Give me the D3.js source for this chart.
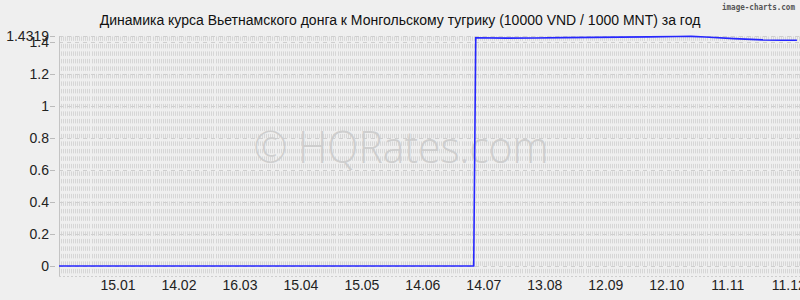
<!DOCTYPE html>
<html><head><meta charset="utf-8">
<script src="https://cdn.jsdelivr.net/npm/d3@7"></script>
<style>body{margin:0;background:#efefef}svg{display:block}</style>
</head><body>
<svg id="c" width="800" height="300"></svg>
<script>
const titleText = "Динамика курса Вьетнамского донга к Монгольскому тугрику (10000 VND / 1000 MNT) за год";
const dates = ["2022-12-17","2023-07-09","2023-07-10","2023-07-25","2023-08-08","2023-08-22","2023-09-05","2023-09-19","2023-10-03","2023-10-17","2023-10-24","2023-10-31","2023-11-14","2023-11-28","2023-12-08","2023-12-15"];
const values = [0,0,1.423,1.421,1.422,1.424,1.426,1.427,1.429,1.4315,1.4319,1.428,1.418,1.410,1.408,1.4075];
const yTicks = [0,0.2,0.4,0.6,0.8,1,1.2,1.4];
const yMaxLabel = 1.4319;
const xTickDates = ["2023-01-15","2023-02-14","2023-03-16","2023-04-15","2023-05-15","2023-06-14","2023-07-14","2023-08-13","2023-09-12","2023-10-12","2023-11-11","2023-12-11"];
const xTickLabels = ["15.01","14.02","16.03","15.04","15.05","14.06","14.07","13.08","12.09","12.10","11.11","11.12"];
const domainStart = "2022-12-17", domainEnd = "2023-12-17";

(function () {
const parse = d3.utcParse("%Y-%m-%d");
const svg = d3.select("#c");
const W = 800, H = 300;
svg.append("rect").attr("width", W).attr("height", H).attr("fill", "#efefef");

const x = d3.scaleUtc().domain([parse(domainStart), parse(domainEnd)]).range([59, 801]);
const y = d3.scaleLinear().domain([0, 1.4]).range([266, 41.5]);
const plotTop = y(yMaxLabel), plotBottom = 276, plotLeft = 59;

// vertical dense grid (one per day)
const days = d3.utcDay.range(parse(domainStart), parse(domainEnd));
svg.append("g").selectAll("line").data(days).join("line")
  .attr("x1", d => Math.round(x(d)) + 0.5).attr("x2", d => Math.round(x(d)) + 0.5)
  .attr("y1", plotTop).attr("y2", plotBottom)
  .attr("stroke", "#d6d6d6").attr("stroke-width", 1)
  .attr("stroke-dasharray", "4.5,3");

// horizontal grid
svg.append("g").selectAll("line").data(yTicks.concat([yMaxLabel])).join("line")
  .attr("x1", plotLeft).attr("x2", W)
  .attr("y1", d => Math.round(y(d)) + 0.5).attr("y2", d => Math.round(y(d)) + 0.5)
  .attr("stroke", "#cfcfcf").attr("stroke-dasharray", "4,4");
svg.append("line").attr("x1", plotLeft).attr("x2", W).attr("y1", plotBottom + 0.5).attr("y2", plotBottom + 0.5)
  .attr("stroke", "#cfcfcf").attr("stroke-dasharray", "2,2");
svg.append("line").attr("x1", plotLeft + 0.5).attr("x2", plotLeft + 0.5).attr("y1", plotTop).attr("y2", plotBottom)
  .attr("stroke", "#c4c4c4");

// watermark
svg.append("text").attr("x", 401).attr("y", 163).attr("text-anchor", "middle")
  .attr("font-family", "Open Sans, DejaVu Sans, sans-serif").attr("font-size", 45).attr("font-weight", 300)
  .attr("textLength", 295).attr("lengthAdjust", "spacingAndGlyphs")
  .attr("fill", "#cbcbcb").attr("fill-opacity", 0.9).text("© HQRates.com");

// y axis labels & ticks
const yl = svg.append("g").attr("font-family", "Liberation Sans, Arial, sans-serif").attr("font-size", 14).attr("fill", "#222");
yl.selectAll("text").data(yTicks.concat([yMaxLabel])).join("text")
  .attr("x", 49).attr("y", d => y(d)).attr("dy", "0.36em").attr("text-anchor", "end")
  .text(d => d === yMaxLabel ? "1.4319" : d3.format("~g")(d));
svg.append("g").selectAll("line").data(yTicks.concat([yMaxLabel])).join("line")
  .attr("x1", 50).attr("x2", 55).attr("y1", d => Math.round(y(d)) + 0.5).attr("y2", d => Math.round(y(d)) + 0.5)
  .attr("stroke", "#bbb");

// x labels
svg.append("g").attr("font-family", "Liberation Sans, Arial, sans-serif").attr("font-size", 14).attr("fill", "#222")
  .selectAll("text").data(xTickDates).join("text")
  .attr("x", d => x(parse(d))).attr("y", 290).attr("text-anchor", "middle")
  .text((d, i) => xTickLabels[i]);

// line
const pts = dates.map((d, i) => [parse(d), values[i]]);
svg.append("path").datum(pts)
  .attr("fill", "none").attr("stroke", "#2626ff").attr("stroke-width", 1.6)
  .attr("d", d3.line().x(d => x(d[0])).y(d => y(d[1])));

// title
svg.append("text").attr("x", 400).attr("y", 25).attr("text-anchor", "middle")
  .attr("font-family", "Liberation Sans, Arial, sans-serif").attr("font-size", 14).attr("fill", "#111")
  .text(titleText);
svg.append("text").attr("x", 795).attr("y", 10).attr("text-anchor", "end")
  .attr("font-family", "DejaVu Sans Mono, monospace").attr("font-size", 9).attr("font-weight", "bold")
  .attr("fill", "#555").attr("textLength", 73).attr("lengthAdjust", "spacingAndGlyphs")
  .text("image-charts.com");
})();
</script>
</body></html>
